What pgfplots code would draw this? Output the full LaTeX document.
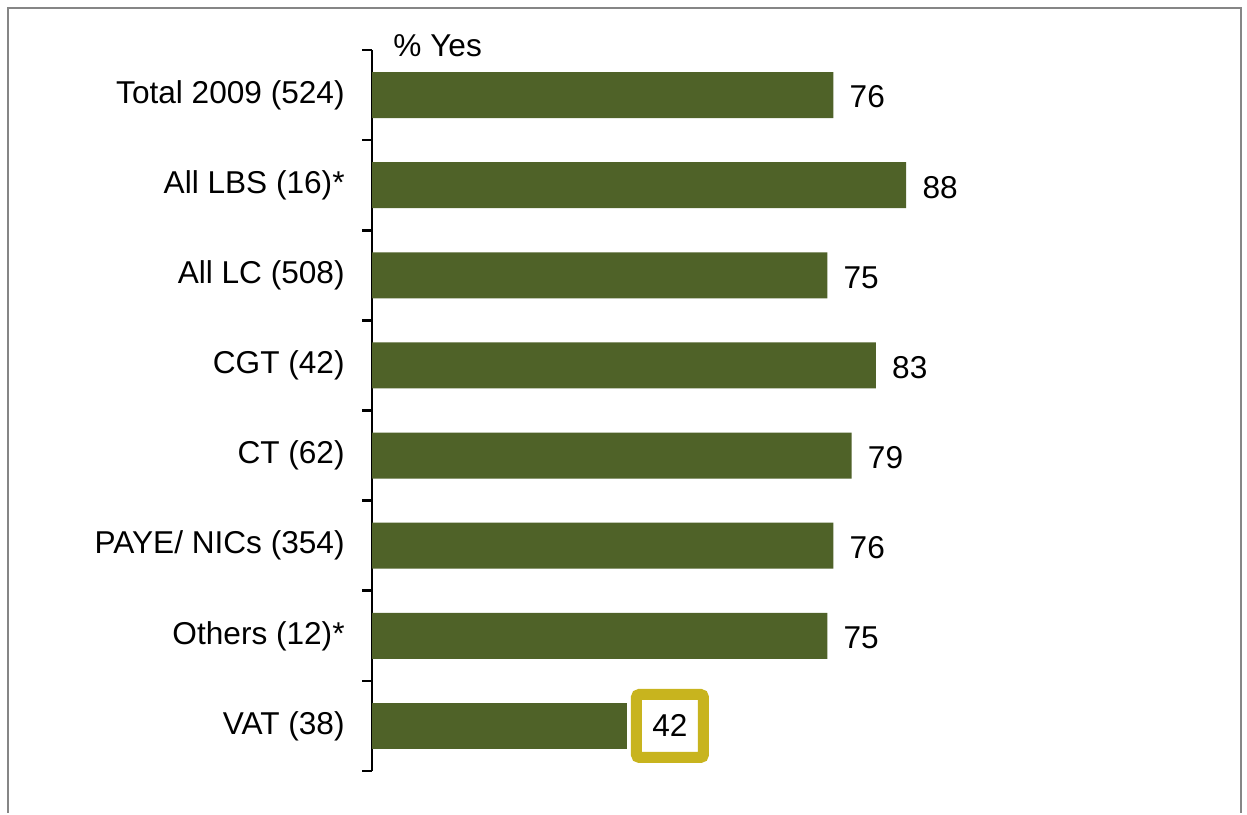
\documentclass[border=0pt]{standalone}
\usepackage{pgfplots}
\pgfplotsset{compat=1.18}
\usepackage{fontspec}
\setmainfont{Liberation Sans}
\definecolor{barcol}{HTML}{4F6228}
\definecolor{boxcol}{HTML}{C8B41E}
\definecolor{framecol}{HTML}{868686}
\begin{document}
\begin{tikzpicture}
\fill[white] (0,0) rectangle (623.5pt,406.5pt);
\draw[framecol, line width=1pt] (3.75pt,0pt) -- (3.75pt,402.5pt) -- (620.5pt,402.5pt) -- (620.5pt,0pt);
\begin{axis}[
  at={(186pt,21pt)}, anchor=south west, scale only axis,
  width=303.5pt, height=360.5pt,
  xbar, xmin=0, xmax=100, ymin=-0.5, ymax=7.5, y dir=reverse,
  hide x axis, axis y line*=left,
  axis line style={line width=1.3pt, black},
  ytick={0,1,2,3,4,5,6,7},
  yticklabels={Total 2009 (524), All LBS (16)*, All LC (508), CGT (42), CT (62), PAYE/ NICs (354), Others (12)*, VAT (38)},
  minor ytick={-0.5,0.5,1.5,2.5,3.5,4.5,5.5,6.5,7.5},
  major tick length=0pt, minor tick length=5pt,
  tick align=outside, ytick pos=left,
  minor y tick style={line width=1.3pt, black},
  yticklabel style={inner sep=0pt, xshift=-13.5pt, font=\fontsize{15.8}{19}\selectfont},
  bar width=23pt,
  /pgf/number format/assume math mode=true,
  clip=false,
]
\addplot[fill=barcol, draw=none, bar shift=0pt, nodes near coords,
  nodes near coords style={anchor=west, inner sep=0pt, xshift=8pt, yshift=-1pt, font=\fontsize{15.8}{19}\selectfont, text=black}]
  coordinates {(76,0) (88,1) (75,2) (83,3) (79,4) (76,5) (75,6)};
\addplot[fill=barcol, draw=none, bar shift=0pt, nodes near coords,
  nodes near coords style={anchor=center, xshift=21.5pt, draw=boxcol, line width=5.5pt, rounded corners=1.5pt, minimum width=33.5pt, minimum height=31.5pt, inner sep=0pt, fill=white, font=\fontsize{15.8}{19}\selectfont, text=black}]
  coordinates {(42,7)};
\end{axis}
\node[anchor=base west, inner sep=0pt, font=\fontsize{15.8}{19}\selectfont] at (196.5pt,378pt) {\% Yes};
\end{tikzpicture}
\end{document}
